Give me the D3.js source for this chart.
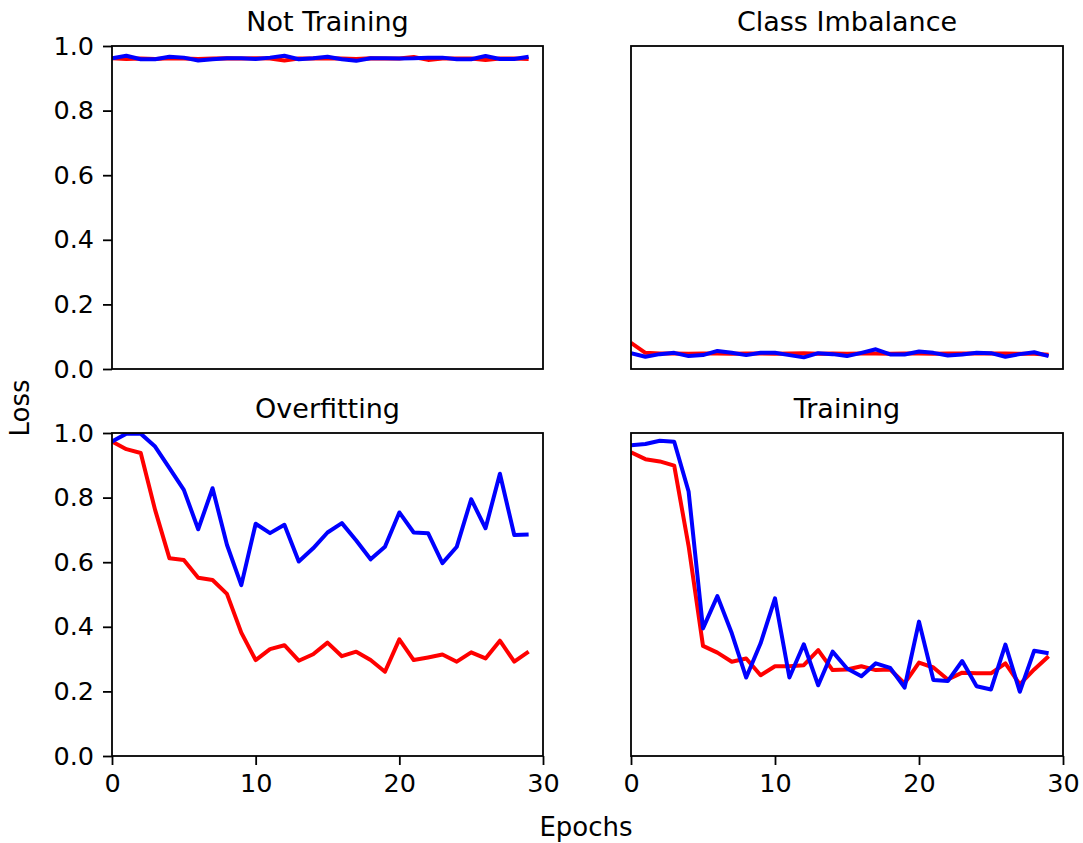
<!DOCTYPE html>
<html>
<head>
<meta charset="utf-8">
<script src="https://cdn.jsdelivr.net/npm/d3@7"></script>
<style>
  html, body { margin: 0; padding: 0; background: #fff; }
  svg { display: block; font-family: "DejaVu Sans", sans-serif; }
</style>
</head>
<body>
<svg id="chart" width="1083" height="843"></svg>
<script>
// ---- data ----
const epochs = d3.range(30);
const panelTitles = ["Not Training", "Class Imbalance", "Overfitting", "Training"];
const xTicks = [0, 10, 20, 30];
const yTicks = [0.0, 0.2, 0.4, 0.6, 0.8, 1.0];

const notTrainingRed = [0.962, 0.960, 0.961, 0.960, 0.962, 0.961, 0.960, 0.961, 0.962, 0.961,
                        0.962, 0.961, 0.955, 0.961, 0.961, 0.962, 0.961, 0.960, 0.962, 0.961,
                        0.961, 0.966, 0.957, 0.961, 0.961, 0.961, 0.957, 0.961, 0.961, 0.960];
const notTrainingBlue = [0.962, 0.970, 0.959, 0.959, 0.967, 0.964, 0.955, 0.959, 0.962, 0.962,
                         0.960, 0.964, 0.970, 0.959, 0.962, 0.967, 0.959, 0.954, 0.962, 0.962,
                         0.961, 0.962, 0.964, 0.964, 0.959, 0.959, 0.969, 0.960, 0.960, 0.967];

const imbalanceRed = [0.081, 0.050, 0.048, 0.048, 0.047, 0.048, 0.048, 0.047, 0.048, 0.048,
                      0.047, 0.048, 0.049, 0.047, 0.048, 0.047, 0.048, 0.048, 0.047, 0.048,
                      0.048, 0.047, 0.048, 0.048, 0.048, 0.048, 0.048, 0.047, 0.047, 0.044];
const imbalanceBlue = [0.049, 0.038, 0.046, 0.050, 0.040, 0.043, 0.056, 0.050, 0.043, 0.050,
                       0.050, 0.043, 0.036, 0.049, 0.046, 0.040, 0.050, 0.061, 0.045, 0.045,
                       0.054, 0.050, 0.042, 0.045, 0.050, 0.049, 0.038, 0.046, 0.052, 0.040];

const overfitRed = [0.974, 0.950, 0.938, 0.762, 0.612, 0.607, 0.552, 0.545, 0.502, 0.382,
                    0.297, 0.331, 0.343, 0.295, 0.315, 0.351, 0.309, 0.323, 0.297, 0.261,
                    0.361, 0.297, 0.305, 0.314, 0.292, 0.321, 0.302, 0.357, 0.292, 0.323];
const overfitBlue = [0.974, 0.998, 0.998, 0.958, 0.891, 0.824, 0.702, 0.829, 0.654, 0.529,
                     0.719, 0.690, 0.716, 0.602, 0.643, 0.692, 0.721, 0.667, 0.609, 0.648,
                     0.754, 0.692, 0.690, 0.597, 0.648, 0.795, 0.705, 0.874, 0.684, 0.686];

const trainingRed = [0.940, 0.919, 0.912, 0.899, 0.650, 0.341, 0.320, 0.292, 0.302, 0.250,
                     0.278, 0.278, 0.281, 0.328, 0.266, 0.268, 0.278, 0.266, 0.268, 0.225,
                     0.289, 0.274, 0.237, 0.258, 0.256, 0.256, 0.287, 0.222, 0.268, 0.309];
const trainingBlue = [0.962, 0.966, 0.976, 0.973, 0.819, 0.395, 0.495, 0.380, 0.243, 0.349,
                      0.488, 0.243, 0.346, 0.219, 0.323, 0.271, 0.247, 0.287, 0.273, 0.212,
                      0.416, 0.235, 0.232, 0.294, 0.216, 0.206, 0.345, 0.199, 0.326, 0.318];

const panelSeries = [
  [notTrainingRed, notTrainingBlue],
  [imbalanceRed, imbalanceBlue],
  [overfitRed, overfitBlue],
  [trainingRed, trainingBlue]
];
const seriesColors = ["#ff0000", "#0000ff"];

// ---- layout ----
const svg = d3.select("#chart");
const colX = [[112, 543], [631, 1063]];
const rowY = [[46, 369], [433, 756]];
const tickFont = 25.5, titleFont = 27, labelFont = 26;

panelSeries.forEach((series, p) => {
  const col = p % 2, row = Math.floor(p / 2);
  const x = d3.scaleLinear().domain([0, 30]).range(colX[col]);
  const y = d3.scaleLinear().domain([0, 1]).range([rowY[row][1], rowY[row][0]]);
  const g = svg.append("g");

  const clipId = "clip" + p;
  g.append("clipPath").attr("id", clipId).append("rect")
    .attr("x", colX[col][0]).attr("y", rowY[row][0])
    .attr("width", colX[col][1] - colX[col][0]).attr("height", rowY[row][1] - rowY[row][0]);

  const line = d3.line().x((d, i) => x(epochs[i])).y(d => y(d));
  series.forEach((s, k) => {
    g.append("path").datum(s)
      .attr("clip-path", `url(#${clipId})`)
      .attr("fill", "none").attr("stroke", seriesColors[k])
      .attr("stroke-width", 4).attr("stroke-linejoin", "round").attr("stroke-linecap", "butt")
      .attr("d", line);
  });

  // frame
  g.append("rect")
    .attr("x", colX[col][0]).attr("y", rowY[row][0])
    .attr("width", colX[col][1] - colX[col][0]).attr("height", rowY[row][1] - rowY[row][0])
    .attr("fill", "none").attr("stroke", "#000").attr("stroke-width", 1.8);

  // y axis (left column only)
  if (col === 0) {
    const ya = g.append("g").attr("transform", `translate(${colX[col][0]},0)`)
      .call(d3.axisLeft(y).tickValues(yTicks).tickFormat(d3.format(".1f")).tickSize(9).tickPadding(9));
    ya.select(".domain").remove();
    ya.selectAll(".tick line").attr("stroke", "#000").attr("stroke-width", 1.8);
    ya.selectAll(".tick text").attr("font-size", tickFont).attr("fill", "#000")
      .attr("font-family", "DejaVu Sans");
  }
  // x axis (bottom row only)
  if (row === 1) {
    const xa = g.append("g").attr("transform", `translate(0,${rowY[row][1]})`)
      .call(d3.axisBottom(x).tickValues(xTicks).tickFormat(d3.format("d")).tickSize(9).tickPadding(9));
    xa.select(".domain").remove();
    xa.selectAll(".tick line").attr("stroke", "#000").attr("stroke-width", 1.8);
    xa.selectAll(".tick text").attr("font-size", tickFont).attr("fill", "#000")
      .attr("font-family", "DejaVu Sans");
  }

  // title
  g.append("text")
    .attr("x", (colX[col][0] + colX[col][1]) / 2)
    .attr("y", rowY[row][0] - 15)
    .attr("text-anchor", "middle").attr("font-size", titleFont).attr("fill", "#000")
    .text(panelTitles[p]);
});

// shared labels
svg.append("text")
  .attr("x", 586).attr("y", 836)
  .attr("text-anchor", "middle").attr("font-size", labelFont).attr("fill", "#000")
  .text("Epochs");
svg.append("text")
  .attr("transform", "translate(29,408) rotate(-90)")
  .attr("text-anchor", "middle").attr("font-size", labelFont).attr("fill", "#000")
  .text("Loss");
</script>
</body>
</html>
